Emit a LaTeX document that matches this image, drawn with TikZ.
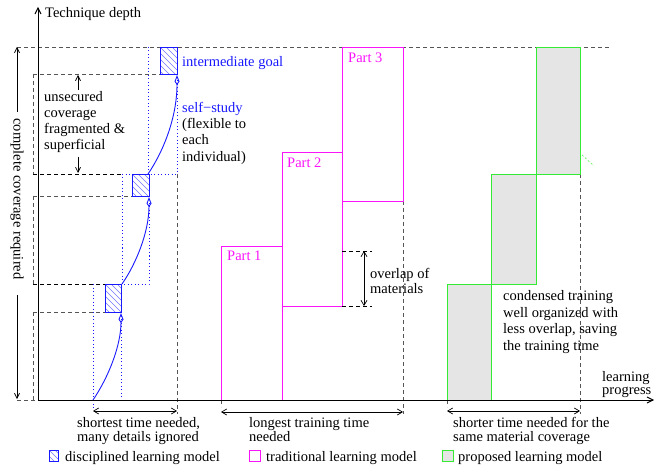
\documentclass[tikz,border=0pt]{standalone}
\usepackage{fontspec}
\setmainfont{Liberation Serif}
\usetikzlibrary{arrows.meta}
\definecolor{myblue}{RGB}{25,25,255}
\definecolor{mymag}{RGB}{250,20,250}
\definecolor{mygreen}{RGB}{50,235,50}
\definecolor{dashgray}{RGB}{85,85,85}
\definecolor{fillgray}{RGB}{229,229,229}
\tikzset{
  gdash/.style={draw=dashgray, dash pattern=on 4pt off 3pt, line width=0.7pt},
  bdash/.style={draw=black, dash pattern=on 4pt off 3pt, line width=0.7pt},
  bdot/.style={draw=myblue, dash pattern=on 1pt off 2.5pt, line width=0.7pt},
  hatchedge/.style={draw=myblue, line width=0.9pt},
  hatchline/.style={draw=myblue!60, line width=0.5pt},
  partbox/.style={draw=mymag, line width=0.9pt},
  propbox/.style={draw=mygreen, fill=fillgray, line width=0.9pt},
  txt/.style={anchor=base west, inner sep=0pt, font=\fontsize{14.5}{16}\selectfont},
  axisline/.style={line width=0.9pt, -{Straight Barb[length=6pt,width=6pt]}},
  onearrow/.style={line width=0.7pt, -{Straight Barb[length=5pt,width=5pt]}},
  dimarrow/.style={line width=0.7pt, {Straight Barb[length=5pt,width=6pt]}-{Straight Barb[length=5pt,width=6pt]}},
  studycurve/.style={draw=myblue, line width=0.9pt, -{Kite[open,length=10pt,width=5pt,inset=3.5pt]}}
}
\newcommand\myhatch[4]{%
  \begin{scope}
    \clip (#1,#2) rectangle (#3,#4);
    \foreach \k in {-36,-30,...,24} {\draw[hatchline] (#1+\k,#2) -- ++(40,40);}
  \end{scope}
  \draw[hatchedge] (#1,#2) rectangle (#3,#4);
}
\begin{document}
\begin{tikzpicture}[x=1pt,y=-1pt]
\useasboundingbox (0,0) rectangle (662,468);
% coordinates
\coordinate (O) at (38,400);
\coordinate (Ytop) at (38,7);
\coordinate (Xend) at (654,400);
\coordinate (cTop) at (17,47);
\coordinate (cBot) at (17,399);
\coordinate (cu) at (17,112);
\coordinate (cd) at (17,295);
% top dashed line
\draw[gdash] (17,47) -- (610,47);
% left dashed frames
\draw[gdash] (33,74) -- (33,174);
\draw[gdash] (33,196) -- (33,284);
\draw[gdash] (33,312) -- (33,400);
\draw[gdash] (33,74) -- (160,74);
\draw[bdash] (33,174) -- (122,174);
\draw[gdash] (33,196) -- (132,196);
\draw[bdash] (33,284) -- (105,284);
\draw[gdash] (33,312) -- (105,312);
\draw[gdash] (17,400) -- (38,400);
% blue dotted frames
\draw[bdot] (148,47) -- (148,174) -- (177,174) -- (177,74);
\draw[bdot] (122,174) -- (132,174);
\draw[bdot] (122,174) -- (122,284) -- (149,284) -- (149,196);
\draw[bdot] (93,284) -- (93,400) -- (121,400) -- (121,312);
% vertical dashed limits
\draw[gdash] (177,174) -- (177,414);
\draw[gdash] (403,201) -- (403,414);
\draw[gdash] (580,174) -- (580,414);
\draw[bdot] (93,400) -- (93,409);
\draw[gdash] (221,400) -- (221,407);
\draw[gdash] (447,400) -- (447,407);
% hatched boxes
\myhatch{160}{47}{177}{74}
\myhatch{132}{174}{149}{196}
\myhatch{105}{284}{121}{312}
% curves
\draw[studycurve] (148,174) .. controls (163,152) and (177,118) .. (177,75);
\draw[studycurve] (122,284) .. controls (136,264) and (149,232) .. (149,197);
\draw[studycurve] (93,400) .. controls (108,378) and (121,346) .. (121,313);
% magenta parts
\draw[partbox] (221,246) rectangle (282,400);
\draw[partbox] (282,152) rectangle (342,306);
\draw[partbox] (342,47) rectangle (403,201);
% overlap indicator
\draw[bdash] (342,251) -- (372,251);
\draw[bdash] (342,306) -- (372,306);
\coordinate (ovT) at (364,251);
\coordinate (ovB) at (364,306);
\draw[dimarrow] (ovT) -- (ovB);
% green boxes
\draw[propbox] (447,284) rectangle (491,400);
\draw[propbox] (491,174) rectangle (536,284);
\draw[propbox] (536,47) rectangle (580,174);
\draw[draw=mygreen!70, dash pattern=on 2pt off 2pt, line width=0.7pt] (582,155) -- (594,166);
% axes
\draw[axisline] (O) -- (Ytop);
\draw[axisline] (O) -- (Xend);
% complete coverage arrow
\draw[onearrow] (cu) -- (cTop);
\draw[onearrow] (cd) -- (cBot);
\node[anchor=center, inner sep=0pt, rotate=-90, font=\fontsize{14.5}{16}\selectfont] (cc) at (17,199) {complete coverage required};
% unsecured arrows
\draw[onearrow] (78,90) -- (78,75);
\draw[onearrow] (78,157) -- (78,173);
% dimension arrows
\draw[dimarrow] (93,411) -- (177,411);
\draw[dimarrow] (221,412) -- (403,412);
\draw[dimarrow] (447,411) -- (580,411);
% texts
\node[txt] (td) at (45,18) {Technique depth};
\node[txt] (u1) at (44,102) {unsecured};
\node[txt] (u2) at (44,118) {coverage};
\node[txt] (u3) at (44,134) {fragmented \&};
\node[txt] (u4) at (44,150) {superficial};
\node[txt, text=myblue] (ig) at (182,67) {intermediate goal};
\node[txt, text=myblue] (ss) at (182,113) {self\textminus study};
\node[txt] (s2) at (182,129) {(flexible to};
\node[txt] (s3) at (182,145) {each};
\node[txt] (s4) at (182,162) {individual)};
\node[txt, text=mymag] (p1) at (227,261) {Part 1};
\node[txt, text=mymag] (p2) at (287,168) {Part 2};
\node[txt, text=mymag] (p3) at (348,63) {Part 3};
\node[txt] (o1) at (370,278) {overlap of};
\node[txt] (o2) at (370,294) {materials};
\node[txt] (c1) at (503,300) {condensed training};
\node[txt] (c2) at (503,317) {well organized with};
\node[txt] (c3) at (503,333) {less overlap, saving};
\node[txt] (c4) at (503,350) {the training time};
\node[txt] (lp1) at (602,381) {learning};
\node[txt] (lp2) at (602,394) {progress};
\node[txt] (a1) at (77,427) {shortest time needed,};
\node[txt] (a2) at (77,441) {many details ignored};
\node[txt] (b1) at (249,427) {longest training time};
\node[txt] (b2) at (249,441) {needed};
\node[txt] (d1) at (453,427) {shorter time needed for the};
\node[txt] (d2) at (453,441) {same material coverage};
% legend
\myhatch{49}{450}{58}{461}
\node[txt] (lg1) at (65,461) {disciplined learning model};
\draw[partbox, line width=0.7pt] (249,450) rectangle (260,461);
\node[txt] (lg2) at (266,461) {traditional learning model};
\draw[propbox, line width=0.7pt] (442,450) rectangle (453,461);
\node[txt] (lg3) at (458,461) {proposed learning model};
\end{tikzpicture}
\end{document}
